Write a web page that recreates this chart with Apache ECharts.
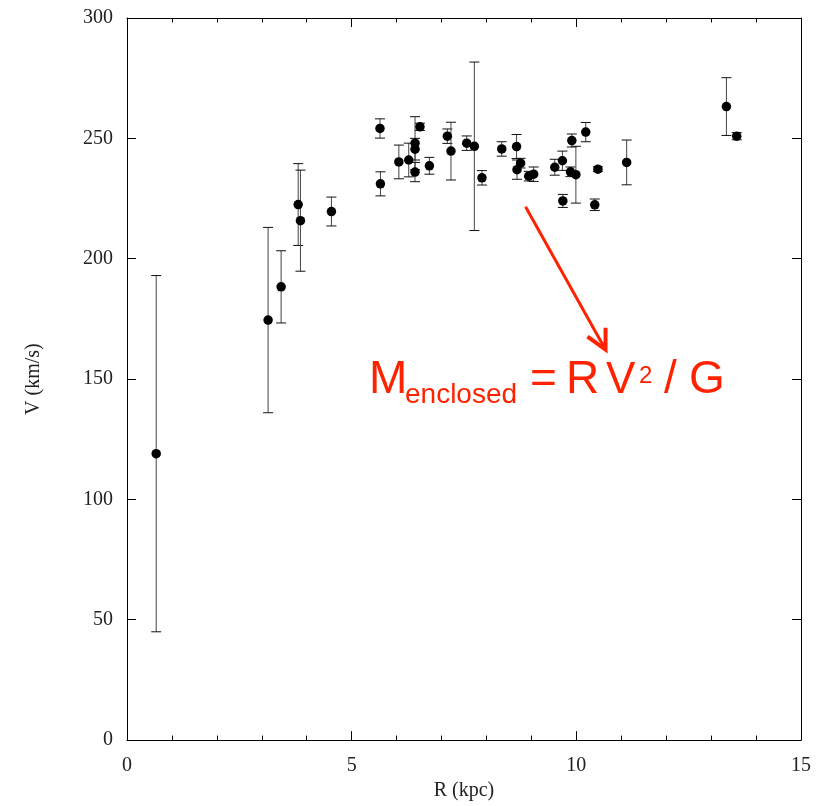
<!DOCTYPE html>
<html>
<head>
<meta charset="utf-8">
<script src="https://cdn.jsdelivr.net/npm/echarts@6/dist/echarts.min.js"></script>
<style>html,body{margin:0;padding:0;background:#fff}#c{width:819px;height:806px}</style>
</head>
<body>
<div id="c"></div>
<script>
// Rotation curve data: radius (kpc), velocity (km/s), symmetric error (km/s)
var R   = [0.65, 3.14, 3.43, 3.81, 3.86, 4.55, 5.63, 5.64, 6.05, 6.27, 6.41, 6.41, 6.41, 6.52, 6.73, 7.13, 7.21, 7.56, 7.73, 7.90, 8.34, 8.67, 8.76, 8.68, 8.94, 9.05, 9.52, 9.69, 9.70, 9.90, 9.87, 9.99, 10.21, 10.48, 10.41, 11.12, 13.34, 13.57];
var V   = [119, 174.5, 188.3, 222.5, 215.8, 219.6, 254.1, 231.1, 240.2, 241.0, 248.0, 245.5, 236.0, 254.8, 238.6, 250.9, 244.7, 248.0, 246.7, 233.6, 245.6, 246.6, 239.7, 237.0, 234.3, 235.1, 238.0, 240.7, 224.0, 249.1, 236.1, 234.9, 252.6, 237.2, 222.4, 240.0, 263.2, 250.9];
var ERR = [74, 38.5, 15, 17, 21, 6, 4, 5, 7, 7, 11, 4.5, 4, 1.5, 3.5, 3, 12, 3, 35, 3, 3, 5, 2, 4, 2, 3, 3.3, 4, 2.7, 2.7, 2, 11.8, 4, 1, 2.4, 9.3, 12, 1.5];
var xTicks = [0, 5, 10, 15];
var yTicks = [0, 50, 100, 150, 200, 250, 300];
var arrowStart = [8.87, 221.6];
var arrowEnd = [10.65, 162.2];

var points = R.map(function (r, i) { return [r, V[i]]; });
var bars = R.map(function (r, i) { return [r, V[i] - ERR[i], V[i] + ERR[i]]; });

var chart = echarts.init(document.getElementById('c'));
var labelFont = 'Liberation Serif';
var tickStyle = { show: true, inside: true, length: 9, lineStyle: { color: '#000', width: 1 } };
var minorX = { show: true, splitNumber: 5, length: 4.5, lineStyle: { color: '#000', width: 1 } };

chart.setOption({
  animation: false,
  backgroundColor: '#fff',
  grid: { left: 127, right: 18, top: 18, bottom: 64, containLabel: false },
  xAxis: [{
    type: 'value', min: xTicks[0], max: xTicks[xTicks.length - 1], interval: 5,
    name: 'R (kpc)', nameLocation: 'middle', nameGap: 40,
    nameTextStyle: { fontFamily: labelFont, fontSize: 20, color: '#222' },
    axisLine: { show: true, onZero: false, lineStyle: { color: '#000', width: 1 } },
    axisTick: tickStyle, minorTick: minorX, splitLine: { show: false },
    axisLabel: { fontFamily: labelFont, fontSize: 20, color: '#222', margin: 16 }
  }, {
    type: 'value', position: 'top', min: 0, max: 15, interval: 5,
    axisLine: { show: true, onZero: false, lineStyle: { color: '#000', width: 1 } },
    axisTick: tickStyle, minorTick: minorX, splitLine: { show: false },
    axisLabel: { show: false }
  }],
  yAxis: [{
    type: 'value', min: yTicks[0], max: yTicks[yTicks.length - 1], interval: 50,
    name: 'V (km/s)', nameLocation: 'middle', nameGap: 83,
    nameTextStyle: { fontFamily: labelFont, fontSize: 20, color: '#222' },
    axisLine: { show: true, onZero: false, lineStyle: { color: '#000', width: 1 } },
    axisTick: tickStyle, splitLine: { show: false },
    axisLabel: { fontFamily: labelFont, fontSize: 20, color: '#222', margin: 14 }
  }, {
    type: 'value', position: 'right', min: 0, max: 300, interval: 50,
    axisLine: { show: true, onZero: false, lineStyle: { color: '#000', width: 1 } },
    axisTick: tickStyle, splitLine: { show: false },
    axisLabel: { show: false }
  }],
  series: [{
    type: 'custom',
    xAxisIndex: 0, yAxisIndex: 0,
    data: bars,
    renderItem: function (params, api) {
      var x = api.value(0);
      var lo = api.coord([x, api.value(1)]);
      var hi = api.coord([x, api.value(2)]);
      var hw = 5;
      var st = { stroke: '#111', lineWidth: 1 };
      return {
        type: 'group',
        children: [
          { type: 'line', shape: { x1: lo[0], y1: lo[1], x2: hi[0], y2: hi[1] }, style: { stroke: '#444', lineWidth: 1 } },
          { type: 'line', shape: { x1: lo[0] - hw, y1: lo[1], x2: lo[0] + hw, y2: lo[1] }, style: st },
          { type: 'line', shape: { x1: hi[0] - hw, y1: hi[1], x2: hi[0] + hw, y2: hi[1] }, style: st }
        ]
      };
    },
    z: 2
  }, {
    type: 'scatter',
    xAxisIndex: 0, yAxisIndex: 0,
    data: points,
    symbol: 'circle', symbolSize: 9.5,
    itemStyle: { color: '#000', opacity: 1 },
    z: 3
  }]
});

var a0 = chart.convertToPixel({ gridIndex: 0 }, arrowStart);
var a1 = chart.convertToPixel({ gridIndex: 0 }, arrowEnd);
var red = '#ff2200';
var big = '46px "Liberation Sans"';
chart.setOption({
  graphic: [
    { type: 'line', shape: { x1: a0[0], y1: a0[1], x2: a1[0], y2: a1[1] }, style: { stroke: red, lineWidth: 3 } },
    { type: 'polyline', shape: { points: [[a1[0] - 18, a1[1] - 13], [a1[0], a1[1]], [a1[0], a1[1] - 22]] }, style: { stroke: red, lineWidth: 4, fill: null, lineJoin: 'miter' } },
    { type: 'text', left: 369, top: 357, style: { text: 'M', font: big, fill: red } },
    { type: 'text', left: 405, top: 381, style: { text: 'enclosed', font: '28px "Liberation Sans"', fill: red } },
    { type: 'text', left: 530, top: 357, style: { text: '=', font: big, fill: red } },
    { type: 'text', left: 566, top: 357, style: { text: 'R', font: big, fill: red } },
    { type: 'text', left: 606, top: 359, style: { text: 'V', font: '44px "Liberation Sans"', fill: red } },
    { type: 'text', left: 639, top: 364, style: { text: '2', font: '24px "Liberation Sans"', fill: red } },
    { type: 'text', left: 664, top: 357, style: { text: '/', font: big, fill: red } },
    { type: 'text', left: 689, top: 357, style: { text: 'G', font: big, fill: red } }
  ]
});
</script>
</body>
</html>
